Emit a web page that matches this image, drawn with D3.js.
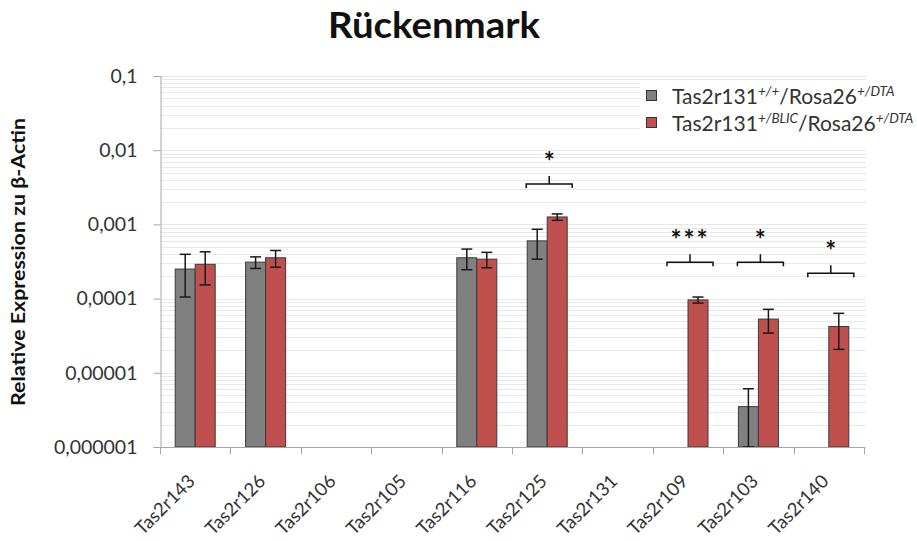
<!DOCTYPE html>
<html>
<head>
<meta charset="utf-8">
<script src="https://cdn.jsdelivr.net/npm/d3@7"></script>
<style>
  html, body { margin: 0; padding: 0; background: #fff; }
  svg { display: block; }
  text { font-family: Lato, "Open Sans", sans-serif; }
</style>
</head>
<body>
<svg id="chart" width="917" height="541"></svg>
<script>
// Genes measured in spinal cord tissue
const categories = ["Tas2r143", "Tas2r126", "Tas2r106", "Tas2r105", "Tas2r116",
                    "Tas2r125", "Tas2r131", "Tas2r109", "Tas2r103", "Tas2r140"];

// Mean relative expression (null = not detected)
const wtValues = [2.5e-4, 3.1e-4, null, null, 3.55e-4, 6.0e-4, null, null, 3.5e-6, null];
const wtSd     = [1.45e-4, 0.55e-4, null, null, 1.1e-4, 2.6e-4, null, null, 2.6e-6, null];
const koValues = [2.9e-4, 3.55e-4, null, null, 3.4e-4, 1.26e-3, null, 9.6e-5, 5.3e-5, 4.2e-5];
const koSd     = [1.37e-4, 0.9e-4, null, null, 0.8e-4, 1.25e-4, null, 0.9e-5, 1.87e-5, 2.13e-5];

// Y axis ticks
const yTickValues = [1e-6, 1e-5, 1e-4, 1e-3, 1e-2, 1e-1];
const yTickLabels = ["0,000001", "0,00001", "0,0001", "0,001", "0,01", "0,1"];

// Significance markers: gene, stars, height of the bracket
const sigCategories = ["Tas2r125", "Tas2r109", "Tas2r103", "Tas2r140"];
const sigLabels     = ["*", "***", "*", "*"];
const sigLevels     = [3.5e-3, 3.1e-4, 3.1e-4, 2.2e-4];

const svg = d3.select("#chart");
const plotLeft = 160, plotRight = 864, plotTop = 76, plotBottom = 447;

const y = d3.scaleLog().domain([1e-6, 0.1]).range([plotBottom, plotTop]);
const x = d3.scaleBand().domain(categories).range([plotLeft, plotRight]).paddingInner(0).paddingOuter(0);
const sub = d3.scaleBand().domain(["wt", "ko"]).range([-20, 20]);

const colors = { wt: "#808080", ko: "#c0504d" };

// Minor and major log gridlines
const gridValues = [];
for (let e = -6; e < -1; e++) {
  for (let m = 1; m <= 9; m++) gridValues.push(m * Math.pow(10, e));
}
gridValues.push(0.1);
svg.append("g").selectAll("line").data(gridValues).join("line")
  .attr("x1", plotLeft + 1).attr("x2", plotRight + 2)
  .attr("y1", d => Math.round(y(d)) + 0.5).attr("y2", d => Math.round(y(d)) + 0.5)
  .attr("stroke", "#e8e8e8").attr("stroke-width", 1);

// Title
svg.append("text").attr("x", 434).attr("y", 38).attr("text-anchor", "middle")
  .attr("font-size", 36).attr("font-weight", 700).attr("fill", "#111")
  .attr("textLength", 212).attr("lengthAdjust", "spacingAndGlyphs")
  .text("Rückenmark");

// Y axis title
svg.append("text").attr("transform", "translate(25,262) rotate(-90)")
  .attr("text-anchor", "middle").attr("font-size", 19).attr("font-weight", 700).attr("fill", "#111")
  .attr("textLength", 288).attr("lengthAdjust", "spacingAndGlyphs")
  .text("Relative Expression zu β-Actin");

// Y axis
const yAxis = d3.axisLeft(y).tickValues(yTickValues)
  .tickFormat((d, i) => yTickLabels[i]).tickSize(7).tickPadding(16);
const yg = svg.append("g").attr("transform", `translate(${plotLeft + 0.5},0)`).call(yAxis);
yg.select(".domain").attr("stroke", "#a6a6a6");
yg.selectAll(".tick line").attr("stroke", "#a6a6a6");
yg.selectAll(".tick text").attr("font-size", 19.5).attr("fill", "#333")
  .attr("font-family", "Lato, sans-serif");

// Bars
const bars = [];
categories.forEach((c, i) => {
  if (wtValues[i] != null) bars.push({ c, k: "wt", v: wtValues[i], sd: wtSd[i] });
  if (koValues[i] != null) bars.push({ c, k: "ko", v: koValues[i], sd: koSd[i] });
});
const cx = c => x(c) + x.bandwidth() / 2;

svg.append("g").selectAll("rect").data(bars).join("rect")
  .attr("x", d => cx(d.c) + sub(d.k))
  .attr("width", sub.bandwidth())
  .attr("y", d => y(d.v))
  .attr("height", d => plotBottom - y(d.v))
  .attr("fill", d => colors[d.k])
  .attr("stroke", "#3a3a3a").attr("stroke-width", 1);

// Error bars
const eg = svg.append("g").attr("stroke", "#1a1a1a").attr("stroke-width", 1.5);
bars.forEach(d => {
  const bx = cx(d.c) + sub(d.k) + sub.bandwidth() / 2;
  const hi = y(d.v + d.sd);
  const lo = d.v - d.sd > 1e-6 ? y(d.v - d.sd) : plotBottom;
  eg.append("line").attr("x1", bx).attr("x2", bx).attr("y1", hi).attr("y2", lo);
  eg.append("line").attr("x1", bx - 5.5).attr("x2", bx + 5.5).attr("y1", hi).attr("y2", hi);
  eg.append("line").attr("x1", bx - 5.5).attr("x2", bx + 5.5).attr("y1", lo).attr("y2", lo);
});

// X axis
const xg = svg.append("g").attr("transform", `translate(0,${plotBottom + 0.5})`);
xg.append("line").attr("x1", plotLeft).attr("x2", plotRight + 1).attr("stroke", "#a6a6a6");
const boundaries = categories.map(c => x(c)).concat([plotRight]);
xg.selectAll("line.tk").data(boundaries).join("line").attr("class", "tk")
  .attr("x1", d => Math.round(d) + 0.5).attr("x2", d => Math.round(d) + 0.5)
  .attr("y1", 0).attr("y2", 7).attr("stroke", "#a6a6a6");
xg.selectAll("text").data(categories).join("text")
  .attr("transform", d => `translate(${cx(d) + 1},${35}) rotate(-45)`)
  .attr("text-anchor", "end").attr("font-size", 18.5).attr("fill", "#333")
  .text(d => d);

// Significance brackets
const sg = svg.append("g");
sigCategories.forEach((c, i) => {
  const mx = cx(c) + 2;
  const by = y(sigLevels[i]);
  const half = 23;
  sg.append("path")
    .attr("d", `M${mx - half},${by + 4}V${by}H${mx + half}V${by + 4}M${mx},${by}V${by - 8}`)
    .attr("fill", "none").attr("stroke", "#111").attr("stroke-width", 1.5);
  sg.append("text").attr("x", mx).attr("y", by - 13).attr("text-anchor", "middle")
    .attr("font-size", 26).attr("font-weight", 700).attr("fill", "#111")
    .attr("letter-spacing", sigLabels[i].length > 1 ? 2 : 0)
    .text(sigLabels[i]);
});

// Legend
const lg = svg.append("g");
lg.append("rect").attr("x", 640).attr("y", 82).attr("width", 230).attr("height", 54).attr("fill", "#fff");
const legendItems = [
  { k: "wt", sup1: "+/+" },
  { k: "ko", sup1: "+/BLIC" }
];
legendItems.forEach((it, i) => {
  const ly = 96 + i * 27;
  lg.append("rect").attr("x", 646.5).attr("y", ly - 5.5).attr("width", 10).attr("height", 10)
    .attr("fill", colors[it.k]).attr("stroke", "#333").attr("stroke-width", 1);
  const t = lg.append("text").attr("x", 672).attr("y", ly + 8).attr("font-size", 21).attr("fill", "#333");
  t.append("tspan").text("Tas2r131");
  t.append("tspan").attr("dy", -8).attr("font-size", 13.5).attr("font-style", "italic").text(it.sup1);
  t.append("tspan").attr("dy", 8).text("/Rosa26");
  t.append("tspan").attr("dy", -8).attr("font-size", 13.5).attr("font-style", "italic").text("+/DTA");
});
</script>
</body>
</html>
